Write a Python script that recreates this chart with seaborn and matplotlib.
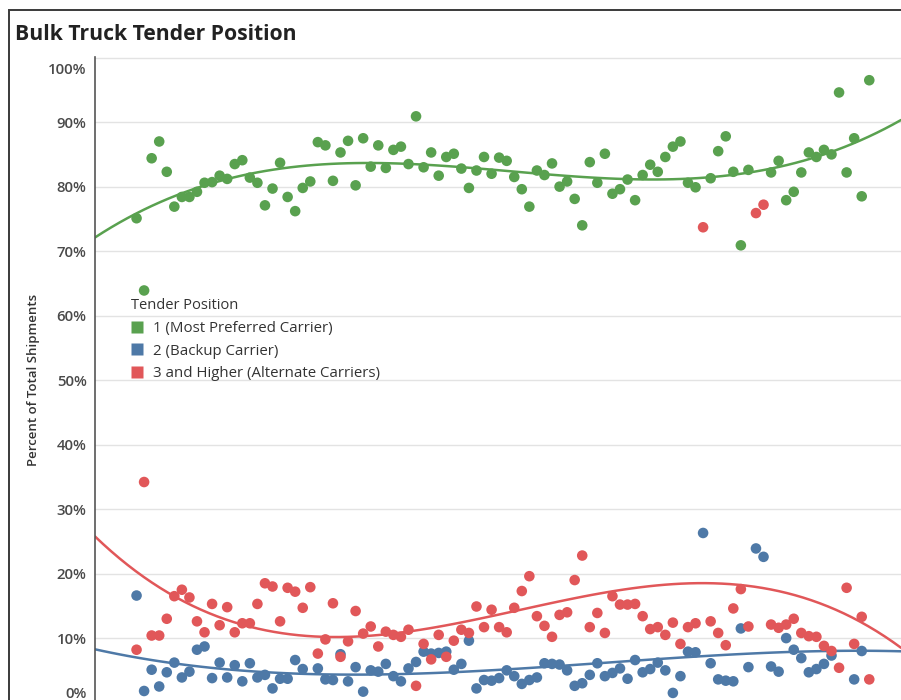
import matplotlib
matplotlib.use("Agg")
import matplotlib.pyplot as plt
import matplotlib.transforms as mtrans
from matplotlib.lines import Line2D
from matplotlib.patches import Rectangle
import numpy as np
import pandas as pd
import seaborn as sns

nan = np.nan

# weekly share of shipments by tender position (percent), nan = no mark that week
weeks = list(range(98))

green = [75.1, 63.9, 84.4, 87.0, 82.3, 76.9, 78.4, 78.4, 79.2, 80.6,
         80.7, 81.7, 81.2, 83.5, 84.1, 81.4, 80.6, 77.1, 79.7, 83.7,
         78.4, 76.2, 79.8, 80.8, 86.9, 86.4, 80.9, 85.3, 87.1, 80.2,
         87.5, 83.1, 86.4, 82.9, 85.7, 86.2, 83.5, 90.9, 83.0, 85.3,
         81.7, 84.6, 85.1, 82.8, 79.8, 82.5, 84.6, 82.0, 84.5, 84.0,
         81.5, 79.6, 76.9, 82.5, 81.8, 83.6, 80.0, 80.8, 78.1, 74.0,
         83.8, 80.6, 85.1, 78.9, 79.6, 81.1, 77.9, 81.8, 83.4, 82.3,
         84.6, 86.2, 87.0, 80.6, 79.9, nan, 81.3, 85.5, 87.8, 82.3,
         70.9, 82.6, nan, nan, 82.2, 84.0, 77.9, 79.2, 82.2, 85.3,
         84.6, 85.7, 85.0, 94.6, 82.2, 87.5, 78.5, 96.5]

blue = [16.6, 1.8, 5.1, 2.5, 4.7, 6.2, 3.9, 4.8, 8.2, 8.7,
        3.8, 6.2, 3.9, 5.8, 3.3, 6.1, 3.9, 4.3, 2.2, 3.7,
        3.7, 6.6, 5.2, nan, 5.3, 3.6, 3.5, 7.5, 3.3, 5.5,
        1.7, 5.0, 4.8, 6.0, 4.1, 3.3, 5.3, 6.3, 7.9, 7.6,
        7.7, 7.9, 5.1, 6.0, 9.6, 2.2, 3.5, 3.4, 3.8, 5.0,
        4.1, 2.9, 3.5, 3.9, 6.1, 6.0, 5.9, 5.0, 2.6, 3.0,
        4.3, 6.1, 4.1, 4.6, 5.3, 3.7, 6.6, 4.7, 5.2, 6.2,
        5.0, 1.5, 4.1, 7.9, 7.8, 26.3, 6.1, 3.6, 3.4, 3.3,
        11.5, 5.5, 23.9, 22.6, 5.6, 4.8, 10.0, 8.2, 6.9, 4.7,
        5.2, 6.0, 7.3, nan, nan, 3.6, 8.0, nan]

red = [8.2, 34.2, 10.4, 10.4, 13.0, 16.5, 17.5, 16.3, 12.6, 10.9,
       15.3, 12.0, 14.8, 10.9, 12.3, 12.3, 15.3, 18.5, 18.0, 12.6,
       17.8, 17.2, 14.7, 17.9, 7.6, 9.8, 15.4, 7.1, 9.5, 14.2,
       10.7, 11.8, 8.7, 11.0, 10.5, 10.2, 11.3, 2.6, 9.1, 6.7,
       10.5, 7.1, 9.6, 11.3, 10.8, 14.9, 11.7, 14.4, 11.7, 10.9,
       14.7, 17.3, 19.6, 13.4, 11.9, 10.2, 13.6, 14.0, 19.0, 22.8,
       11.7, 13.9, 10.8, 16.5, 15.2, 15.2, 15.3, 13.4, 11.4, 11.7,
       10.5, 12.4, 9.1, 11.7, 12.3, 73.7, 12.6, 10.8, 8.9, 14.6,
       17.6, 11.8, 75.9, 77.2, 12.1, 11.6, 12.1, 13.0, 10.8, 10.3,
       10.2, 8.8, 8.0, 5.4, 17.8, 9.1, 13.3, 3.6]

positions = ["1 (Most Preferred Carrier)", "2 (Backup Carrier)",
             "3 and Higher (Alternate Carriers)"]
colors = ["#59A14F", "#4E79A7", "#E15759"]

df = pd.DataFrame({"week": weeks * 3,
                   "share": green + blue + red,
                   "position": [positions[0]] * len(weeks) + [positions[1]] * len(weeks)
                               + [positions[2]] * len(weeks)})

sns.set_style("white")
plt.rcParams['font.family'] = ['Open Sans', 'DejaVu Sans']

fig = plt.figure(figsize=(9.01, 7.0), dpi=100)
ax = fig.add_axes([95 / 901, -2.6 / 700, 806 / 901, 645.6 / 700])
ax.set_xlim(-5.5, 101.2)
ax.set_ylim(0, 100.1)

palette = dict(zip(positions, colors))

# cubic trend lines (tableau style polynomial, order 3)
for pos in positions:
    sub = df[df["position"] == pos]
    sns.regplot(data=sub, x="week", y="share", order=3, ci=None, scatter=False,
                truncate=False, color=palette[pos], line_kws={"lw": 1.8, "zorder": 2}, ax=ax)

sns.scatterplot(data=df, x="week", y="share", hue="position", palette=palette,
                s=58, edgecolor="none", linewidth=0, legend=False, zorder=3, ax=ax)

ax.set_xlim(-5.5, 101.2)
ax.set_ylim(0, 100.1)

ax.set_yticks(range(0, 101, 10))
ax.set_yticklabels([f"{v}%" for v in range(0, 101, 10)])
ax.set_xticks([])
ax.set_xlabel("")
ax.grid(axis="y", color="#e3e3e3", lw=1.0)
ax.set_axisbelow(True)
for s in ["top", "right", "bottom"]:
    ax.spines[s].set_visible(False)
ax.spines["left"].set_color("#555555")
ax.spines["left"].set_linewidth(1.2)
ax.tick_params(axis="y", length=0, pad=6, labelsize=10.8, labelcolor="#4a4a4a")
for lab in ax.get_yticklabels():
    lab.set_fontweight("semibold")

# keep end labels inside the axes like the original
labels = ax.get_yticklabels()
labels[0].set_transform(labels[0].get_transform() +
                        mtrans.ScaledTranslation(0, 10.5 / 100, fig.dpi_scale_trans))
labels[-1].set_transform(labels[-1].get_transform() +
                         mtrans.ScaledTranslation(0, -10.5 / 100, fig.dpi_scale_trans))

ax.set_ylabel("Percent of Total Shipments", fontsize=9.5, color="#333333", fontweight="semibold")
ax.yaxis.set_label_coords(-0.068, 0.50)

fig.text(15 / 901, 1 - 34 / 700, "Bulk Truck Tender Position", fontsize=15.2,
         fontweight="bold", color="#222222", va="center", ha="left")

handles = [Line2D([0], [0], marker="s", linestyle="none", markersize=9.2,
                  markerfacecolor=c, markeredgecolor="none") for c in colors]
leg = ax.legend(handles, positions, title="Tender Position", loc="upper left",
                bbox_to_anchor=(131 / 901, 1 - 298 / 700), bbox_transform=fig.transFigure,
                frameon=False, fontsize=10.8, title_fontsize=10.5, alignment="left",
                handlelength=0.8, handletextpad=0.65, labelspacing=0.52,
                borderpad=0, borderaxespad=0)
for t in leg.get_texts():
    t.set_color("#333333")
leg.get_title().set_color("#333333")

# dashboard sheet border
fig.add_artist(Rectangle((9 / 901, -0.1), 1.2, 1 - 10 / 700 + 0.1, transform=fig.transFigure,
                         fill=False, edgecolor="#3a3a3a", lw=1.4))

fig.savefig("out.png", dpi=100)
